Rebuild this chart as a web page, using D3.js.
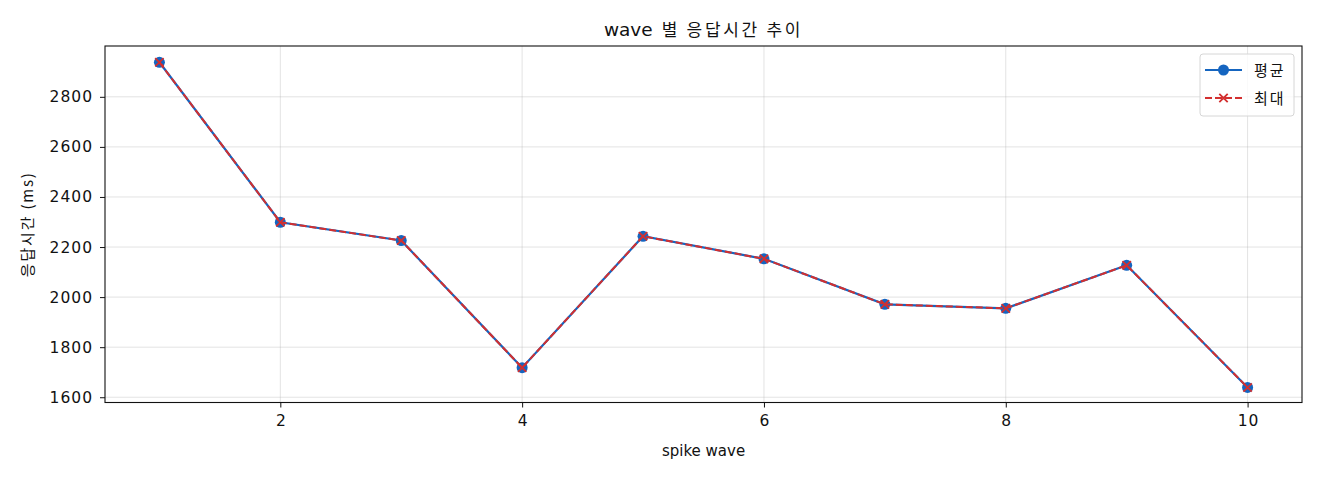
<!DOCTYPE html>
<html><head><meta charset="utf-8">
<script src="https://cdn.jsdelivr.net/npm/d3@7"></script>
<style>
body{margin:0;background:#fff;}
text{font-family:"DejaVu Sans","Noto Sans CJK KR",sans-serif;fill:#111;}
.kr{font-family:"Noto Sans CJK KR","DejaVu Sans",sans-serif;}
</style></head>
<body><svg id="c" width="1320" height="480"></svg>
<script>
const waves = [1,2,3,4,5,6,7,8,9,10];
const avgMs = [2938,2299,2226,1718,2243,2153,1971,1955,2127,1639];
const maxMs = [2938,2299,2226,1718,2243,2153,1971,1955,2127,1639];
const xTicks = [2,4,6,8,10];
const yTicks = [1600,1800,2000,2200,2400,2600,2800];
const seriesNames = ["평균","최대"];
const titleLatin = "wave";
const titleKorean = "별 응답시간 추이";
const xLabel = "spike wave";
const yLabel = "응답시간 (ms)";

const svg = d3.select("#c");
const L=105,T=46,R=1302,B=402.5;
const x = d3.scaleLinear().domain([0.55,10.45]).range([L,R]);
const y = d3.scaleLinear().domain([1579,3003]).range([B,T]);
const blue="#1565c0", red="#d32f2f";

// grid
const g = svg.append("g");
g.selectAll(".gx").data(xTicks).join("line")
  .attr("x1",d=>x(d)).attr("x2",d=>x(d)).attr("y1",T).attr("y2",B)
  .attr("stroke","#b0b0b0").attr("stroke-opacity",0.35).attr("stroke-width",1);
g.selectAll(".gy").data(yTicks).join("line")
  .attr("x1",L).attr("x2",R).attr("y1",d=>y(d)).attr("y2",d=>y(d))
  .attr("stroke","#b0b0b0").attr("stroke-opacity",0.35).attr("stroke-width",1);

// axes
const xa = svg.append("g").attr("transform",`translate(0,${B})`)
  .call(d3.axisBottom(x).tickValues(xTicks).tickSize(5).tickPadding(7).tickFormat(d3.format("d")));
const ya = svg.append("g").attr("transform",`translate(${L},0)`)
  .call(d3.axisLeft(y).tickValues(yTicks).tickSize(5).tickPadding(7).tickFormat(d3.format("d")));
[xa,ya].forEach(a=>{a.select(".domain").remove();
  a.selectAll("text").style("font-size","15.5px").style("font-family","DejaVu Sans").style("letter-spacing","1px").attr("fill","#111");
  a.selectAll("line").attr("stroke","#111").attr("stroke-width",1);});
xa.selectAll("text").attr("dx","0.5px");

// lines
const pts = waves.map((w,i)=>({w,a:avgMs[i],m:maxMs[i]}));
const lineA = d3.line().x(d=>x(d.w)).y(d=>y(d.a));
const lineM = d3.line().x(d=>x(d.w)).y(d=>y(d.m));
svg.append("path").datum(pts).attr("d",lineA).attr("fill","none").attr("stroke",blue).attr("stroke-width",2.2);
svg.selectAll(".ca").data(pts).join("circle").attr("cx",d=>x(d.w)).attr("cy",d=>y(d.a)).attr("r",5.5).attr("fill",blue);
svg.append("path").datum(pts).attr("d",lineM).attr("fill","none").attr("stroke",red).attr("stroke-width",2).attr("stroke-dasharray","7,3");
const xm = (sel,px,py)=>{const s=4.2;
  sel.append("path").attr("d",`M${px-s},${py-s}L${px+s},${py+s}M${px-s},${py+s}L${px+s},${py-s}`)
   .attr("stroke",red).attr("stroke-width",1.8).attr("fill","none");};
pts.forEach(d=>xm(svg,x(d.w),y(d.m)));

// frame
svg.append("rect").attr("x",L).attr("y",T).attr("width",R-L).attr("height",B-T)
  .attr("fill","none").attr("stroke","#111").attr("stroke-width",1.1);

// title
const tt = svg.append("text").attr("x",(L+R)/2).attr("y",36).attr("text-anchor","middle");
tt.append("tspan").style("font-family","DejaVu Sans").style("font-size","18.5px").text(titleLatin);
tt.append("tspan").attr("class","kr").style("font-size","17px").style("letter-spacing","2.7px").attr("dx","9").text(titleKorean);

svg.append("text").attr("x",(L+R)/2).attr("y",456).attr("text-anchor","middle").style("font-size","15px").text(xLabel);
svg.append("text").attr("class","kr").attr("transform",`translate(33,${(T+B)/2}) rotate(-90)`).attr("text-anchor","middle")
  .style("font-size","15px").style("letter-spacing","1.8px").text(yLabel);

// legend
const lg = svg.append("g");
lg.append("rect").attr("x",1200).attr("y",54).attr("width",94).attr("height",62).attr("rx",3)
  .attr("fill","#fff").attr("fill-opacity",0.8).attr("stroke","#d6d6d6");
lg.append("line").attr("x1",1205).attr("x2",1242).attr("y1",70).attr("y2",70).attr("stroke",blue).attr("stroke-width",2.2);
lg.append("circle").attr("cx",1223.5).attr("cy",70).attr("r",5.5).attr("fill",blue);
lg.append("line").attr("x1",1205).attr("x2",1242).attr("y1",98).attr("y2",98).attr("stroke",red).attr("stroke-width",2).attr("stroke-dasharray","7,3");
xm(lg,1223.5,98);
lg.append("text").attr("class","kr").attr("x",1254).attr("y",76).style("font-size","15px").style("letter-spacing","2px").text(seriesNames[0]);
lg.append("text").attr("class","kr").attr("x",1254).attr("y",104).style("font-size","15px").style("letter-spacing","2px").text(seriesNames[1]);
</script></body></html>
